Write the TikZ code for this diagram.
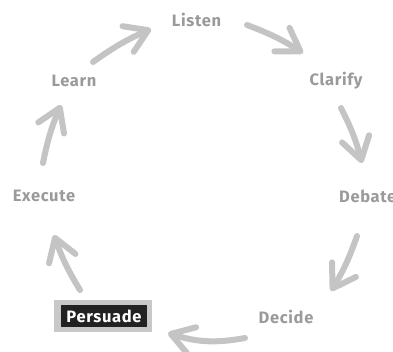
\documentclass[tikz,border=0pt]{standalone}
\usepackage{fontspec}
\setmainfont{Fira Sans}[LetterSpace=4]
\usetikzlibrary{arrows.meta}
\definecolor{labelgrey}{HTML}{9A9A9A}
\definecolor{arrowgrey}{HTML}{C4C4C4}
\definecolor{boxdark}{HTML}{222222}
\definecolor{boxrim}{HTML}{C8C8C8}
\begin{document}
\begin{tikzpicture}[x=1pt,y=-1pt,
  step label/.style={text=labelgrey,font=\fontsize{16.5}{16.5}\selectfont\bfseries,inner sep=0pt,anchor=center},
  flow/.style={draw=arrowgrey,line width=6pt,line cap=round,
    -{Straight Barb[length=22pt,width=28pt,line width=6pt,round]}}]
\useasboundingbox (0,0) rectangle (393,351);

% the seven steps of the cycle
\node[step label] (listen)  at (196.5,20) {Listen};
\node[step label] (clarify) at (336,81)  {Clarify};
\node[step label,anchor=west] (debate) at (339,196) {Debate};
\node[step label] (decide)  at (286,317) {Decide};
\node[step label] (execute) at (44,196)  {Execute};
\node[step label] (learn)   at (74,81)   {Learn};

% highlighted step
\draw[fill=boxrim,draw=none] (54,300) rectangle (152,332);
\node[fill=boxdark,text=white,font=\fontsize{16.5}{16.5}\selectfont\bfseries,
  minimum width=86pt,minimum height=22pt,inner sep=0pt] (persuade) at (104,316) {Persuade};

% arrow end points
\coordinate (a1s) at (93,62);   \coordinate (a1e) at (151,29);
\coordinate (a2s) at (247,25);  \coordinate (a2e) at (303,53);
\coordinate (a3s) at (341,108); \coordinate (a3e) at (362,163);
\coordinate (a4s) at (357,236); \coordinate (a4e) at (331,291);
\coordinate (a5s) at (245,338); \coordinate (a5e) at (168,333);
\coordinate (a6s) at (80,290);  \coordinate (a6e) at (54,235);
\coordinate (a7s) at (43,163);  \coordinate (a7e) at (61,105);

\draw[flow] (a1s) to[bend left=6] (a1e);
\draw[flow] (a2s) to[bend left=6] (a2e);
\draw[flow] (a3s) to[bend left=6] (a3e);
\draw[flow] (a4s) to[bend left=6] (a4e);
\draw[flow] (a5s) to[bend left=14] (a5e);
\draw[flow] (a6s) to[bend left=6] (a6e);
\draw[flow] (a7s) to[bend left=6] (a7e);
\end{tikzpicture}
\end{document}
